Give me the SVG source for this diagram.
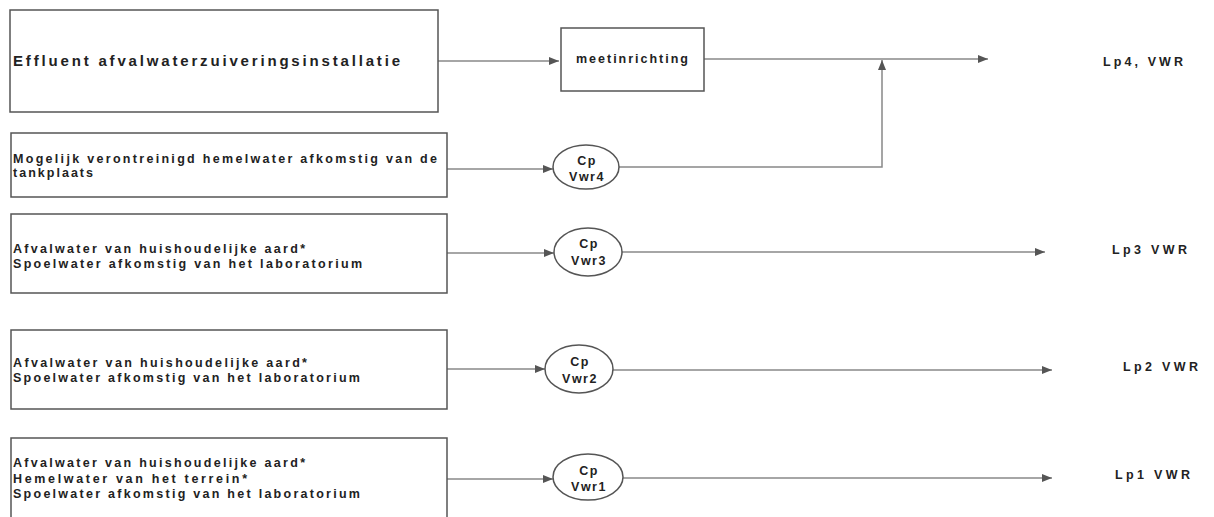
<svg xmlns="http://www.w3.org/2000/svg" width="1214" height="517" viewBox="0 0 1214 517">
<style>
.box{fill:#fff;stroke:#555;stroke-width:1.5}
.ell{fill:#fff;stroke:#555;stroke-width:1.5}
.t{font-family:"Liberation Sans",Arial,sans-serif;font-weight:bold;fill:#222;font-size:12.5px}
.big{font-size:15px}
.c{text-anchor:middle;letter-spacing:1.5px}
.conn{fill:none;stroke:#888;stroke-width:1.5}
</style>
<defs>
<marker id="ah" viewBox="0 0 10 8" refX="10" refY="4" markerWidth="10" markerHeight="8" markerUnits="userSpaceOnUse" orient="auto">
<path d="M0,0 L10,4 L0,8 Z" fill="#555"/>
</marker>
</defs>
<rect width="1214" height="517" fill="#fff"/>
<g id="connectors">
<path class="conn" d="M438,61 H559" marker-end="url(#ah)"/>
<path class="conn" d="M704,59 H988" marker-end="url(#ah)"/>
<path class="conn" d="M619,167 H882 V60" marker-end="url(#ah)"/>
<path class="conn" d="M447,169 H553" marker-end="url(#ah)"/>
<path class="conn" d="M447,253 H554" marker-end="url(#ah)"/>
<path class="conn" d="M622,252 H1045" marker-end="url(#ah)"/>
<path class="conn" d="M447,369 H545" marker-end="url(#ah)"/>
<path class="conn" d="M613,370 H1052" marker-end="url(#ah)"/>
<path class="conn" d="M447,479 H553" marker-end="url(#ah)"/>
<path class="conn" d="M623,478 H1052" marker-end="url(#ah)"/>
</g>
<g id="box1">
<rect class="box" x="10" y="10" width="428" height="102"/>
<text class="t big" x="13" y="66" textLength="387" lengthAdjust="spacing">Effluent afvalwaterzuiveringsinstallatie</text>
</g>
<g id="box2">
<rect class="box" x="11" y="133" width="436" height="64"/>
<text class="t" x="13" y="163" textLength="424" lengthAdjust="spacing">Mogelijk verontreinigd hemelwater afkomstig van de</text>
<text class="t" x="13" y="177" textLength="80" lengthAdjust="spacing">tankplaats</text>
</g>
<g id="box3">
<rect class="box" x="11" y="214" width="436" height="79"/>
<text class="t" x="13" y="253" textLength="292" lengthAdjust="spacing">Afvalwater van huishoudelijke aard*</text>
<text class="t" x="13" y="268" textLength="349" lengthAdjust="spacing">Spoelwater afkomstig van het laboratorium</text>
</g>
<g id="box4">
<rect class="box" x="11" y="330" width="436" height="79"/>
<text class="t" x="13" y="367" textLength="294" lengthAdjust="spacing">Afvalwater van huishoudelijke aard*</text>
<text class="t" x="13" y="382" textLength="347" lengthAdjust="spacing">Spoelwater afkomstig van het laboratorium</text>
</g>
<g id="box5">
<rect class="box" x="11" y="438" width="436" height="90"/>
<text class="t" x="13" y="467" textLength="292" lengthAdjust="spacing">Afvalwater van huishoudelijke aard*</text>
<text class="t" x="13" y="483" textLength="234" lengthAdjust="spacing">Hemelwater van het terrein*</text>
<text class="t" x="13" y="498" textLength="347" lengthAdjust="spacing">Spoelwater afkomstig van het laboratorium</text>
</g>
<g id="meetinrichting">
<rect class="box" x="561" y="28" width="143" height="63"/>
<text class="t" x="576" y="63" textLength="112" lengthAdjust="spacing">meetinrichting</text>
</g>
<g id="cp4">
<ellipse class="ell" cx="586" cy="167" rx="33" ry="22"/>
<text class="t c" x="587" y="165">Cp</text>
<text class="t c" x="587" y="181">Vwr4</text>
</g>
<g id="cp3">
<ellipse class="ell" cx="588" cy="252" rx="34" ry="24"/>
<text class="t c" x="589" y="248">Cp</text>
<text class="t c" x="589" y="265">Vwr3</text>
</g>
<g id="cp2">
<ellipse class="ell" cx="579" cy="369" rx="34" ry="24"/>
<text class="t c" x="580" y="366">Cp</text>
<text class="t c" x="580" y="383">Vwr2</text>
</g>
<g id="cp1">
<ellipse class="ell" cx="588" cy="477" rx="35" ry="23"/>
<text class="t c" x="589" y="475">Cp</text>
<text class="t c" x="589" y="491">Vwr1</text>
</g>
<g id="lp4"><text class="t" x="1103" y="66" textLength="80" lengthAdjust="spacing">Lp4, VWR</text></g>
<g id="lp3"><text class="t" x="1112" y="254" textLength="75" lengthAdjust="spacing">Lp3 VWR</text></g>
<g id="lp2"><text class="t" x="1123" y="371" textLength="75" lengthAdjust="spacing">Lp2 VWR</text></g>
<g id="lp1"><text class="t" x="1115" y="479" textLength="75" lengthAdjust="spacing">Lp1 VWR</text></g>
</svg>
